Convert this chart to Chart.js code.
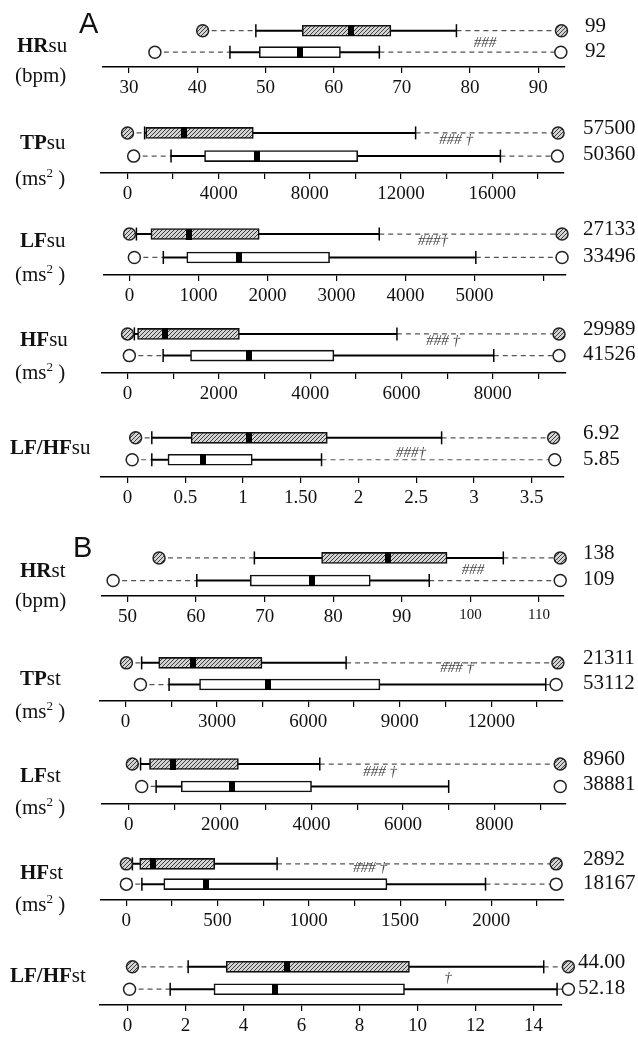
<!DOCTYPE html>
<html><head><meta charset="utf-8">
<script src="https://cdn.jsdelivr.net/npm/chart.js@4.4.0/dist/chart.umd.min.js"></script>
<style>
body{margin:0;background:#fff;width:638px;height:1037px;overflow:hidden;position:relative;font-family:"Liberation Serif","Times New Roman",serif;}
canvas{position:absolute;left:0;}
.t{position:absolute;white-space:nowrap;line-height:1;transform:translateY(-50%);color:#111;}
.nm{font-size:21px;}
.nm b{font-weight:bold;}
.un{font-size:21px;}
.un sup{font-size:13px;}
.rv{font-size:21px;}
.an{font-size:15px;font-style:italic;color:#444;transform:translate(-50%,-50%);}
.pl{font-family:"Liberation Sans",Arial,sans-serif;font-size:29px;color:#111;}
</style></head><body>
<script>
// ---------- DATA ----------
const panelNames  = ['HR','TP','LF','HF','LF/HF','HR','TP','LF','HF','LF/HF'];
const panelSuffix = ['su','su','su','su','su','st','st','st','st','st'];
const panelUnits  = ['(bpm)','(ms2)','(ms2)','(ms2)','','(bpm)','(ms2)','(ms2)','(ms2)',''];

// hatched group (upper row)
const minH      = [40.8, 0,    0,    0,    0.07, 54.6, 30,   80,   0,   0.17];
const wLoH      = [48.6, 750,  100,  150,  0.21, 68.5, 530,  260,  33,  2.09];
const q1H       = [55.4, 800,  310,  220,  0.55, 78.3, 1090, 455,  73,  3.40];
const medH      = [62.6, 2480, 860,  820,  1.05, 88.0, 2230, 970,  145, 5.51];
const q3H       = [68.4, 5520, 1880, 2450, 1.73, 96.6, 4480, 2400, 484, 9.72];
const wHiH      = [78.0, 12640,3620, 5900, 2.72, 104.8,7240, 4180, 826, 14.35];
const maxMarkH  = [93.4, 18890,6270, 9450, 3.69, 113.1,14190,9440, 2355,15.2];
const maxLabelH = ['99','57500','27133','29989','6.92','138','21311','8960','2892','44.00'];

// white group (lower row)
const minW      = [33.8, 270,  70,   40,   0.04, 47.9, 490,  285,  0,   0.07];
const wLoW      = [44.8, 1910, 490,  780,  0.21, 60.1, 1430, 600,  85,  1.47];
const q1W       = [49.1, 3380, 830,  1380, 0.35, 67.9, 2430, 1150, 205, 2.98];
const medW      = [55.1, 5700, 1580, 2650, 0.65, 76.9, 4680, 2260, 435, 5.08];
const q3W       = [61.0, 10100,2900, 4520, 1.08, 85.4, 8350, 4000, 1428,9.55];
const wHiW      = [66.7, 16360,5020, 8020, 1.68, 94.0, 13790,7000, 1968,14.81];
const maxMarkW  = [93.3, 18860,6270, 9450, 3.70, 113.1,14130,9440, 2355,15.2];
const maxLabelW = ['92','50360','33496','41526','5.85','109','53112','38881','18167','52.18'];
const dashToMaxW = [true,true,true,true,true,true,true,false,true,true];

const annotText = ['###','### †','###†','### †','###†','###','### †','### †','### †','†'];

const axisMin = [26.15, -1163, -370, -563, -0.23, 46.25, -843, -588, -139, -0.97];
const axisMax = [93.87, 19150, 6320, 9589, 3.78, 113.65, 14357, 9553, 2398, 14.98];
const tickValues = [
  [30,40,50,60,70,80,90],
  [0,2000,4000,6000,8000,10000,12000,14000,16000,18000],
  [0,1000,2000,3000,4000,5000,6000],
  [0,1000,2000,3000,4000,5000,6000,7000,8000,9000],
  [0,0.5,1,1.5,2,2.5,3,3.5],
  [50,60,70,80,90,100,110],
  [0,1500,3000,4500,6000,7500,9000,10500,12000,13500],
  [0,1000,2000,3000,4000,5000,6000,7000,8000,9000],
  [0,250,500,750,1000,1250,1500,1750,2000,2250],
  [0,2,4,6,8,10,12,14]
];
const tickText = [
  ['30','40','50','60','70','80','90'],
  ['0','','4000','','8000','','12000','','16000',''],
  ['0','1000','2000','3000','4000','5000',''],
  ['0','','2000','','4000','','6000','','8000',''],
  ['0','0.5','1','1.50','2','2.5','3','3.5'],
  ['50','60','70','80','90','100','110'],
  ['0','','3000','','6000','','9000','','12000',''],
  ['0','','2000','','4000','','6000','','8000',''],
  ['0','','500','','1000','','1500','','2000',''],
  ['0','2','4','6','8','10','12','14']
];

// ---------- LAYOUT (pixels) ----------
const rowY1 = [25,126.7,228.3,328.3,432.3,552.3,656.7,757.7,858.3,960.7];
const rowY2 = [50,153.3,255,353.3,457.7,578.3,681.7,783.3,881.7,986.7];
const axisY = [67.3,172.7,275,373.3,477.7,596,700.7,803.3,900,1005];
const axisLeftPx  = [102.7,101,104,101.8,101,101.8,99.8,101.8,101,99.4];
const axisRightPx = [564.7,564,565.5,565.4,564,564,563,565.4,564,562];
const nameX = [17,20,20,20,10,20,20,20,20,10];
const nameY = [45,142,240,339,447,570,678,775,872,975];
const unitY = [75,177,273,371,null,600,710,806,903,null];
const valueX = [585,583,583,583,583,583,583,583,583,578];
const annotX = [485,456,433,443,411,473,457,380,370,448];
const annotY = [41.7,139,240,340,452,569,667,771,867,977];
const AXH = 32, TOPPAD = 16;

function addText(cls, html, x, y){
  const d = document.createElement('div');
  d.className = 't ' + cls; d.innerHTML = html;
  d.style.left = x + 'px'; d.style.top = y + 'px';
  document.body.appendChild(d);
}
function makeHatch(ctx){
  const c = document.createElement('canvas'); c.width = 4; c.height = 4;
  const g = c.getContext('2d');
  g.fillStyle = '#d4d4d4'; g.fillRect(0,0,4,4);
  g.strokeStyle = '#3a3a3a'; g.lineWidth = 1;
  g.beginPath();
  g.moveTo(-1,5); g.lineTo(5,-1);
  g.moveTo(-1,1); g.lineTo(1,-1);
  g.moveTo(3,5); g.lineTo(5,3);
  g.stroke();
  return ctx.createPattern(c,'repeat');
}
function makeMedian(){
  const c = document.createElement('canvas'); c.width = 6; c.height = 11;
  const g = c.getContext('2d'); g.fillStyle = '#000'; g.fillRect(0,0,6,11);
  return c;
}
const medImg = makeMedian();

for (let p = 0; p < 10; p++) {
  const top = rowY1[p] - TOPPAD;
  const H = Math.round(axisY[p] - top + AXH);
  const cv = document.createElement('canvas');
  cv.width = 638; cv.height = H; cv.style.top = top + 'px';
  document.body.appendChild(cv);
  const ctx = cv.getContext('2d');
  const pat = makeHatch(ctx);
  const sp = rowY2[p] - rowY1[p];

  const rows = [
    {y:1, mn:minH[p], wl:wLoH[p], q1:q1H[p], md:medH[p], q3:q3H[p], wh:wHiH[p], mx:maxMarkH[p], fill:pat, dashR:true},
    {y:0, mn:minW[p], wl:wLoW[p], q1:q1W[p], md:medW[p], q3:q3W[p], wh:wHiW[p], mx:maxMarkW[p], fill:'#ffffff', dashR:dashToMaxW[p]}
  ];
  const datasets = [];
  const lineBase = {type:'line', indexAxis:'y', clip:false, pointRadius:0, fill:false, tension:0};
  rows.forEach(r => {
    datasets.push(Object.assign({}, lineBase, {data:[{x:r.mn,y:r.y},{x:r.wl,y:r.y}], borderColor:'#555', borderWidth:1.2, borderDash:[5,4], order:8}));
    if (r.dashR) datasets.push(Object.assign({}, lineBase, {data:[{x:r.wh,y:r.y},{x:r.mx,y:r.y}], borderColor:'#555', borderWidth:1.2, borderDash:[5,4], order:8}));
    datasets.push(Object.assign({}, lineBase, {data:[{x:r.wl,y:r.y},{x:r.wh,y:r.y}], borderColor:'#000', borderWidth:2,
      pointRadius:6.5, pointStyle:'line', pointRotation:90, pointBorderColor:'#000', pointBorderWidth:1.5, order:6}));
    datasets.push(Object.assign({}, lineBase, {data:[{x:r.mx,y:r.y},{x:r.mn,y:r.y}], showLine:false,
      pointRadius:6, pointStyle:'circle', pointBackgroundColor:r.fill, pointBorderColor:'#222', pointBorderWidth:1.5, order:0}));
  });
  datasets.push({type:'bar', clip:false, data:[{x:[q1H[p],q3H[p]], y:1},{x:[q1W[p],q3W[p]], y:0}],
    backgroundColor:[pat,'#ffffff'], borderColor:'#111', borderWidth:1.6, borderSkipped:false, barThickness:11, order:3});
  datasets.push(Object.assign({}, lineBase, {data:[{x:medH[p],y:1},{x:medW[p],y:0}], showLine:false,
    pointRadius:3, pointStyle:medImg, order:1}));

  new Chart(ctx, {
    type:'bar',
    data:{datasets},
    options:{
      indexAxis:'y', responsive:false, animation:false, events:[], devicePixelRatio:1,
      layout:{padding:{left:axisLeftPx[p], right:638-axisRightPx[p], top:0, bottom:0}},
      plugins:{legend:{display:false}, tooltip:{enabled:false}},
      scales:{
        x:{type:'linear', min:axisMin[p], max:axisMax[p], beginAtZero:false, offset:false,
          afterBuildTicks:(s)=>{ s.ticks = tickValues[p].map(v=>({value:v})); },
          afterFit:(s)=>{ s.height = AXH; },
          border:{display:true, color:'#000', width:1.5},
          grid:{display:true, drawOnChartArea:false, drawTicks:true, tickLength:6, color:'#000', lineWidth:1.2, offset:false},
          ticks:{autoSkip:false, maxRotation:0, minRotation:0, padding:4, color:'#111',
            font:(c)=>({family:'"Liberation Serif", serif', size:(p===5 && c.tick && c.tick.value>=100)?15:19}),
            callback:(v,i)=>tickText[p][i]}
        },
        y:{type:'linear', display:false, offset:false, min:-(axisY[p]-rowY2[p])/sp, max:1+TOPPAD/sp}
      }
    }
  });

  addText('nm', '<b>'+panelNames[p]+'</b>'+panelSuffix[p], nameX[p], nameY[p]);
  if (unitY[p] !== null) addText('un', panelUnits[p].replace('2','<sup>2</sup> '), 15, unitY[p]);
  addText('rv', maxLabelH[p], valueX[p], rowY1[p]);
  addText('rv', maxLabelW[p], valueX[p], rowY2[p]);
  addText('an', annotText[p], annotX[p], annotY[p]);
}
addText('pl', 'A', 79, 23);
addText('pl', 'B', 73, 547);
</script>
</body></html>
